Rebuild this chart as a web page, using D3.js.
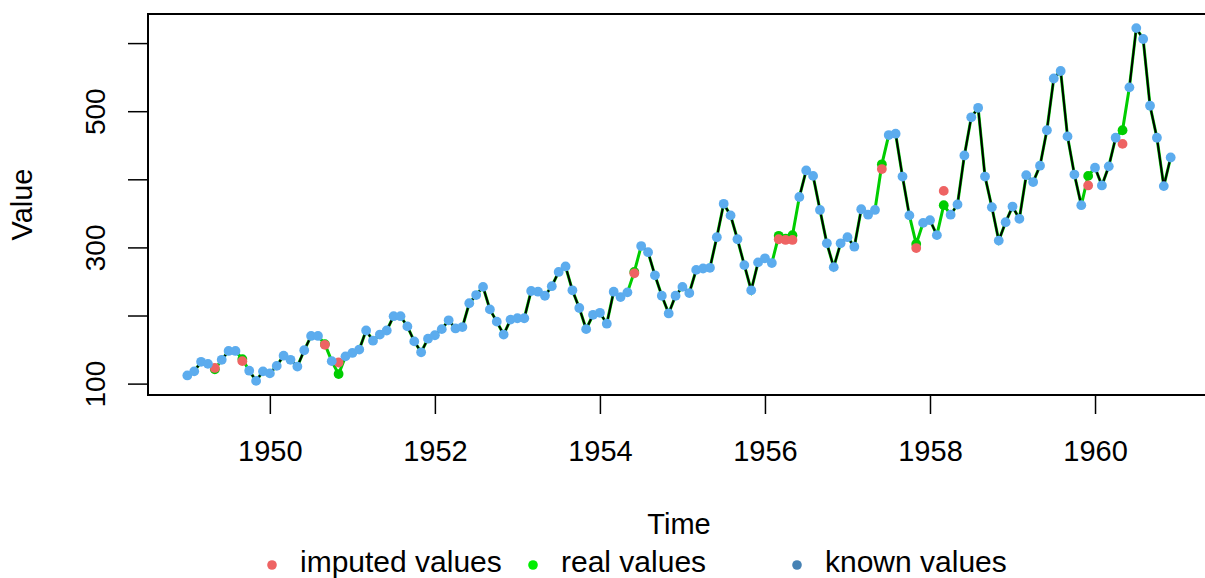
<!DOCTYPE html>
<html>
<head>
<meta charset="utf-8">
<script src="https://cdn.jsdelivr.net/npm/d3@7"></script>
<style>
  body { margin: 0; background: #fff; }
  text { font-family: "Liberation Sans", Arial, sans-serif; fill: #000; }
</style>
</head>
<body>
<svg id="chart" width="1205" height="578"></svg>
<script>
// AirPassengers, monthly 1949-1960 (the "real values")
const startYear = 1949;
const passengers = [
  112, 118, 132, 129, 121, 135, 148, 148, 136, 119, 104, 118,
  115, 126, 141, 135, 125, 149, 170, 170, 158, 133, 114, 140,
  145, 150, 178, 163, 172, 178, 199, 199, 184, 162, 146, 166,
  171, 180, 193, 181, 183, 218, 230, 242, 209, 191, 172, 194,
  196, 196, 236, 235, 229, 243, 264, 272, 237, 211, 180, 201,
  204, 188, 235, 227, 234, 264, 302, 293, 259, 229, 203, 229,
  242, 233, 267, 269, 270, 315, 364, 347, 312, 274, 237, 278,
  284, 277, 317, 313, 318, 374, 413, 405, 355, 306, 271, 306,
  315, 301, 356, 348, 355, 422, 465, 467, 404, 347, 305, 336,
  340, 318, 362, 348, 363, 435, 491, 505, 404, 359, 310, 337,
  360, 342, 406, 396, 420, 472, 548, 559, 463, 407, 362, 405,
  417, 391, 419, 461, 472, 535, 622, 606, 508, 461, 390, 432
];
// positions (month index) that were missing, and what got imputed there
const missingIndex = [4, 8, 20, 22, 65, 86, 87, 88, 101, 106, 110, 131, 136];
const imputedValues = [123, 133, 157, 131, 262, 312, 311, 311, 415, 299, 383, 391, 452];

const xTicks = [1950, 1952, 1954, 1956, 1958, 1960];
const yTicks = [100, 200, 300, 400, 500, 600];
const yLabels = [100, 300, 500];

const legendItems = ["imputed values", "real values", "known values"];
const legendColors = ["#EE6363", "#00EE00", "#4682B4"];

const colImputed = "#EE6363", colReal = "#00CD00", colKnown = "#5CACEE";

const t = i => startYear + i / 12;
const missingSet = new Set(missingIndex);
const series = passengers.map((v, i) => ({ t: t(i), v: v, missing: missingSet.has(i) }));
const imputed = missingIndex.map((idx, k) => ({ t: t(idx), v: imputedValues[k] }));

const plot = { left: 148, right: 1210, top: 14, bottom: 395 };

const tExt = d3.extent(series, d => d.t);
const tPad = (tExt[1] - tExt[0]) * 0.04;
const vMin = d3.min(passengers), vMax = d3.max(passengers);
const vPad = (vMax - vMin) * 0.04;

const x = d3.scaleLinear()
    .domain([tExt[0] - tPad, tExt[1] + tPad])
    .range([plot.left, plot.right]);

const y = d3.scaleLinear()
    .domain([vMin - vPad, vMax + vPad])
    .range([plot.bottom, plot.top]);

const svg = d3.select("#chart");

// full truth line in green, underneath
svg.append("path")
    .datum(series)
    .attr("fill", "none")
    .attr("stroke", colReal)
    .attr("stroke-width", 3)
    .attr("d", d3.line().x(d => x(d.t)).y(d => y(d.v)));

// line of the series with gaps, black
svg.append("path")
    .datum(series)
    .attr("fill", "none")
    .attr("stroke", "#000")
    .attr("stroke-width", 2)
    .attr("d", d3.line().defined(d => !d.missing).x(d => x(d.t)).y(d => y(d.v)));

svg.append("g").selectAll("circle")
    .data(series.filter(d => d.missing))
    .join("circle")
    .attr("cx", d => x(d.t))
    .attr("cy", d => y(d.v))
    .attr("r", 4.9)
    .attr("fill", colReal);

svg.append("g").selectAll("circle")
    .data(imputed)
    .join("circle")
    .attr("cx", d => x(d.t))
    .attr("cy", d => y(d.v))
    .attr("r", 4.9)
    .attr("fill", colImputed);

svg.append("g").selectAll("circle")
    .data(series.filter(d => !d.missing))
    .join("circle")
    .attr("cx", d => x(d.t))
    .attr("cy", d => y(d.v))
    .attr("r", 4.9)
    .attr("fill", colKnown);

// box
svg.append("rect")
    .attr("x", plot.left)
    .attr("y", plot.top)
    .attr("width", plot.right - plot.left)
    .attr("height", plot.bottom - plot.top)
    .attr("fill", "none")
    .attr("stroke", "#000")
    .attr("stroke-width", 2);

// x axis
const xAxis = svg.append("g")
    .attr("transform", `translate(0,${plot.bottom})`)
    .call(d3.axisBottom(x).tickValues(xTicks).tickFormat(d3.format("d")).tickSize(19).tickPadding(26));
xAxis.select(".domain").remove();
xAxis.selectAll("line").attr("stroke", "#000").attr("stroke-width", 1.5);
xAxis.selectAll("text").style("font-family", "Liberation Sans, Arial, sans-serif").style("font-size", "29px");

// y axis
const yAxis = svg.append("g")
    .attr("transform", `translate(${plot.left},0)`)
    .call(d3.axisLeft(y).tickValues(yTicks).tickSize(20).tickFormat(d => yLabels.includes(d) ? d : ""));
yAxis.select(".domain").remove();
yAxis.selectAll("line").attr("stroke", "#000").attr("stroke-width", 1.5);
yAxis.selectAll("text")
    .style("font-family", "Liberation Sans, Arial, sans-serif")
    .style("font-size", "28px")
    .attr("x", null).attr("dy", null)
    .attr("text-anchor", "middle")
    .attr("transform", "translate(-43,0) rotate(-90)");

// axis titles
svg.append("text")
    .attr("transform", `translate(32,${(plot.top + plot.bottom) / 2}) rotate(-90)`)
    .attr("text-anchor", "middle")
    .style("font-size", "29px")
    .text("Value");

svg.append("text")
    .attr("x", (plot.left + plot.right) / 2)
    .attr("y", 534)
    .attr("text-anchor", "middle")
    .style("font-size", "29px")
    .text("Time");

// legend (the reference crops its bottom edge)
const legendX = [272, 533, 797];
const legend = svg.append("g");
legendItems.forEach((name, i) => {
    legend.append("circle")
        .attr("cx", legendX[i])
        .attr("cy", 565)
        .attr("r", 4.8)
        .attr("fill", legendColors[i]);
    legend.append("text")
        .attr("x", legendX[i] + 28)
        .attr("y", 572)
        .style("font-size", "30px")
        .text(name);
});
</script>
</body>
</html>
